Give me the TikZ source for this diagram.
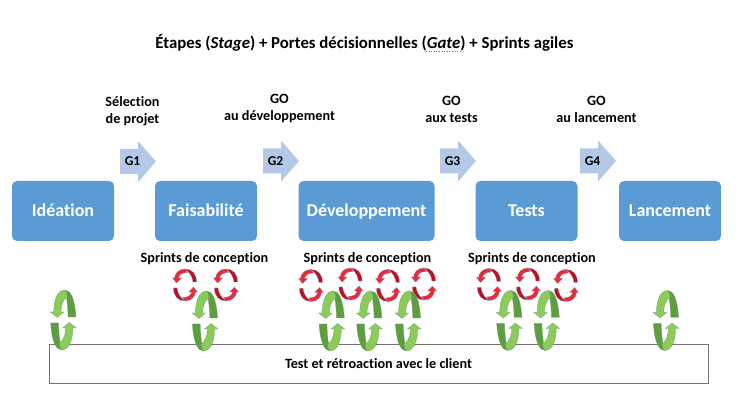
\documentclass[tikz,border=0pt]{standalone}
\usepackage{fontspec}
\setmainfont[Ligatures=NoCommon]{Carlito}
\definecolor{stepblue}{HTML}{5B9BD5}
\definecolor{gateblue}{HTML}{B4C9E6}
\definecolor{gdark}{HTML}{5E9E3E}
\definecolor{glight}{HTML}{8CCB5A}
\definecolor{gedge}{HTML}{6E9E7E}
\definecolor{rdark}{HTML}{C00F1E}
\definecolor{rlight}{HTML}{EE2A36}
\definecolor{redge}{HTML}{7A86A8}
\tikzset{
 stagebox/.style={fill=stepblue,rounded corners=5pt,text=white,font=\fontsize{18}{20}\selectfont\bfseries,inner sep=0pt,text height=15pt,text depth=3.5pt},
 gatelabel/.style={font=\fontsize{13.5}{15}\selectfont\bfseries,inner sep=0pt},
 caption/.style={font=\fontsize{14.2}{16.5}\selectfont\bfseries,align=center,inner sep=0pt},
 sprintlabel/.style={font=\fontsize{14.2}{16}\selectfont\bfseries,inner sep=0pt},
 gatearrow/.pic={
  \fill[gateblue] (-18,-12.5) -- (0,-12.5) -- (0,-20.5) -- (18,0) -- (0,20.5) -- (0,12.5) -- (-18,12.5) -- cycle;
 },
 halfgreen/.pic={
  \filldraw[fill=gdark,draw=gedge,line width=.25pt] (12.6,-3) .. controls (11.5,-22) and (7,-30) .. (1.7,-30) .. controls (3,-24) and (4.6,-15) .. (4.8,-3) -- cycle;
  \filldraw[fill=glight,draw=gedge,line width=.25pt] (1.7,-30) .. controls (-6,-30) and (-9.5,-20) .. (-9.6,-8) -- (-13,-8) -- (-6,-2.5) -- (0.6,-8) -- (-2.4,-8) .. controls (-2.2,-15) and (0,-21) .. (4,-23) .. controls (3.5,-27) and (3,-29) .. (1.7,-30) -- cycle;
 },
 greenloop/.pic={
  \pic {halfgreen};
  \pic[rotate=180] {halfgreen};
 },
 halfred/.pic={
  \filldraw[fill=rdark,draw=redge,line width=.25pt] (11.5,-3) .. controls (11.5,-11) and (7,-16) .. (0,-16) .. controls (5,-12.5) and (7.5,-8) .. (8,-3) -- cycle;
  \filldraw[fill=rlight,draw=redge,line width=.25pt] (0,-16) .. controls (-7,-16) and (-10,-11) .. (-10.5,-7) -- (-12.5,-7) -- (-8.5,-2) -- (-3.5,-7) -- (-6.5,-7) .. controls (-6,-10.5) and (-3,-12.5) .. (2.5,-12.5) -- cycle;
 },
 redloop/.pic={
  \pic {halfred};
  \pic[rotate=180] {halfred};
 }
}
\begin{document}
\begin{tikzpicture}[x=1pt,y=-1pt]
\useasboundingbox (0,0) rectangle (736,411);
\fill[white] (0,0) rectangle (736,411);
\node[font=\fontsize{16.8}{18}\selectfont\bfseries,inner sep=0pt] (title) at (364.5,43) {Étapes (\textit{Stage}) + Portes décisionnelles (\textit{Gate}) + Sprints agiles};
\draw[red!80!white,line width=.6pt,dotted] (426,51) -- (462,51);
\node[caption] (c1) at (132.5,111) {Sélection\\de projet};
\node[caption] (c2) at (279.5,108.5) {GO\\au développement};
\node[caption] (c3) at (451.5,109.5) {GO\\aux tests};
\node[caption] (c4) at (596.5,109.5) {GO\\au lancement};
\pic at (138,161.5) {gatearrow};
\pic at (281,161) {gatearrow};
\pic at (458,161) {gatearrow};
\pic at (598,161) {gatearrow};
\node[gatelabel] (g1) at (132.5,161) {G1};
\node[gatelabel] (g2) at (275.5,161) {G2};
\node[gatelabel] (g3) at (452.5,161) {G3};
\node[gatelabel] (g4) at (592.5,161) {G4};
\node[stagebox,minimum width=102pt,minimum height=60pt] (s1) at (63,211) {Idéation};
\node[stagebox,minimum width=102pt,minimum height=60pt] (s2) at (206,211) {Faisabilité};
\node[stagebox,minimum width=136pt,minimum height=60pt] (s3) at (366.5,211) {Développement};
\node[stagebox,minimum width=102pt,minimum height=60pt] (s4) at (526.5,211) {Tests};
\node[stagebox,minimum width=102pt,minimum height=60pt] (s5) at (670,211) {Lancement};
\node[sprintlabel] (l1) at (204.5,259) {Sprints de conception};
\node[sprintlabel] (l2) at (367.5,259) {Sprints de conception};
\node[sprintlabel] (l3) at (532,259) {Sprints de conception};
\node[draw=black!55,line width=.8pt,minimum width=659pt,minimum height=38.5pt,inner sep=0pt,font=\fontsize{14.2}{16}\selectfont\bfseries] (test) at (378.5,364) {Test et rétroaction avec le client};
\foreach \x/\y in {185/285,226/285,311/285.5,350.5/284,388/285.5,424/284,489/284.5,528/284,566/285.5} \pic at (\x,\y) {redloop};
\foreach \x/\y in {63.3/320,205/321,331.7/321,369.3/321,408/321,509.3/320.5,546.7/320.5,666/320.5} \pic at (\x,\y) {greenloop};
\end{tikzpicture}
\end{document}
